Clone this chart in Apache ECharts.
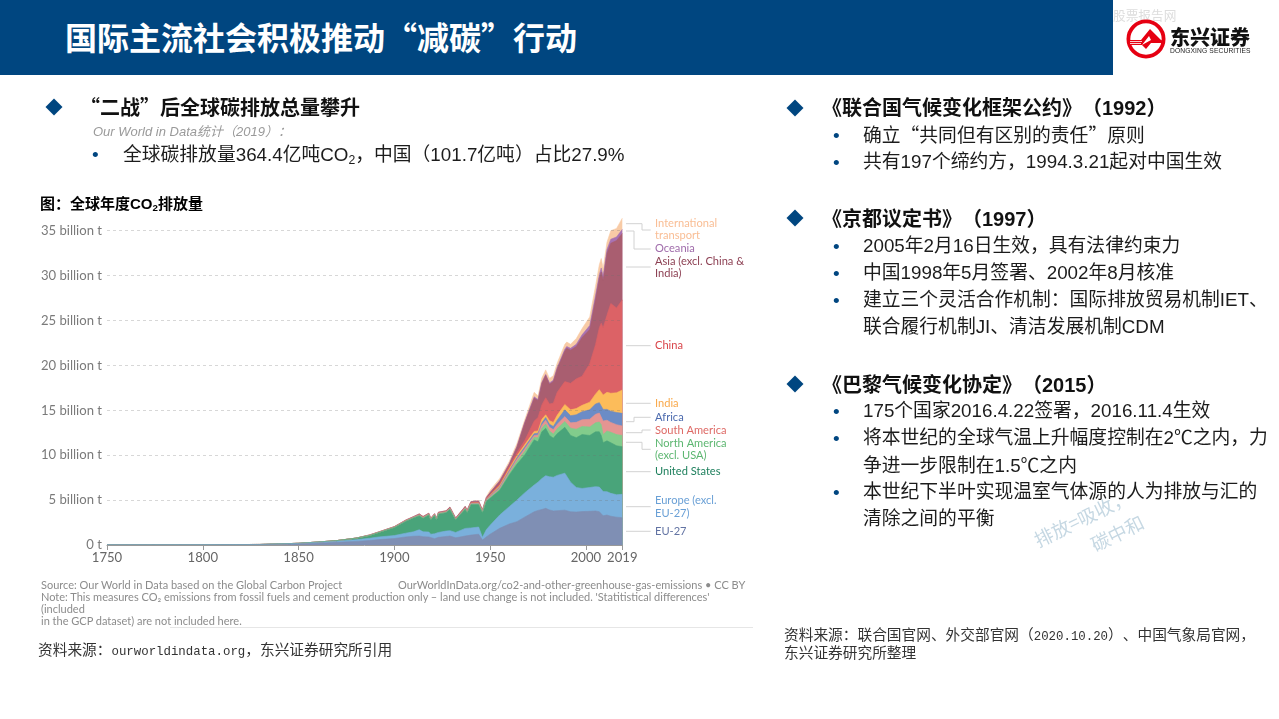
<!DOCTYPE html>
<html lang="zh-CN">
<head>
<meta charset="utf-8">
<title>国际主流社会积极推动“减碳”行动</title>
<script src="https://cdn.jsdelivr.net/npm/echarts@6/dist/echarts.min.js"></script>
<style>
html, body { margin: 0; padding: 0; background: #fff; }
#page { position: relative; width: 1279px; height: 719px; overflow: hidden; font-family: "Liberation Sans", "Noto Sans CJK SC", sans-serif; color: #1c1c1c; text-spacing-trim: space-all; }
#co2Chart { position: absolute; left: 0; top: 0; width: 1279px; height: 719px; }
.t { position: absolute; white-space: nowrap; line-height: 1; transform: translateY(-50%); }
.cjk { font-family: "Noto Sans CJK SC", sans-serif; }
.h { font-size: 20px; font-weight: 700; color: #111; }
.s { font-size: 18.8px; }
.dot { font-size: 19px; color: #004680; }
.dia { position: absolute; width: 12px; height: 12px; background: #004680; transform: translate(-50%, -50%) rotate(45deg); }
.src { font-size: 14.7px; color: #333; }
.src i { font-family: "Liberation Mono", monospace; font-style: normal; font-size: 12.4px; }
.note { font-family: Lato, sans-serif; font-size: 11px; color: #8c8c8c; }
sub { font-size: 65%; line-height: 0; vertical-align: -0.25em; }
</style>
</head>
<body>
<div id="page">
  <div id="co2Chart"></div>

  <div style="position:absolute;left:0;top:0;width:1113px;height:75px;background:#004680"></div>
  <div class="t cjk" style="left:65px;top:36px;font-size:32px;font-weight:700;color:#fff">国际主流社会积极推动“减碳”行动</div>
  <div class="t cjk" style="left:1113px;top:15px;font-size:12.7px;color:#ddd">股票报告网</div>
  <svg style="position:absolute;left:1124px;top:17px" width="44" height="44" viewBox="0 0 44 44">
    <circle cx="22" cy="22" r="17.6" fill="#fff" stroke="#e60012" stroke-width="3.8"/>
    <path d="M5 23 L17 23 L26 12 L37 23 L40 24 L40 26 L27 26 L22 32 L18 28 L27 23 L25 19 L18 28 L5 28 Z" fill="#e60012"/>
    <path d="M6 24.5 L18 24.5 M6 26.5 L17 26.5" stroke="#fff" stroke-width="0.8"/>
  </svg>
  <div class="t cjk" style="left:1170px;top:37px;font-size:20px;font-weight:900;color:#111">东兴证券</div>
  <div class="t" style="left:1170px;top:51px;font-size:6.7px;letter-spacing:0.12px;color:#222">DONGXING SECURITIES</div>

  <div class="dia" style="left:54px;top:107px"></div>
  <div class="t h cjk" style="left:80px;top:107px">“二战”后全球碳排放总量攀升</div>
  <div class="t" style="left:93px;top:131px;font-size:13px;font-style:italic;color:#9a9a9a">Our World in Data统计（2019）：</div>
  <div class="t dot" style="left:92px;top:154px">•</div>
  <div class="t s" style="left:123px;top:155px">全球碳排放量364.4亿吨CO<sub>2</sub>，中国（101.7亿吨）占比27.9%</div>
  <div class="t" style="left:40px;top:203px;font-size:15px;font-weight:700;color:#000">图：全球年度CO<sub>2</sub>排放量</div>

  <div class="t note" style="left:41px;top:584px">Source: Our World in Data based on the Global Carbon Project</div>
  <div class="t note" style="left:398px;top:584px">OurWorldInData.org/co2-and-other-greenhouse-gas-emissions • CC BY</div>
  <div class="t note" style="left:41px;top:595.5px">Note: This measures CO₂ emissions from fossil fuels and cement production only – land use change is not included. 'Statitistical differences'</div>
  <div class="t note" style="left:41px;top:608px">(included</div>
  <div class="t note" style="left:41px;top:620px">in the GCP dataset) are not included here.</div>
  <div style="position:absolute;left:170px;top:627px;width:583px;height:1px;background:#e6e6e6"></div>
  <div class="t src cjk" style="left:38px;top:650px">资料来源：<i>ourworldindata.org</i>，东兴证券研究所引用</div>

  <div class="dia" style="left:795px;top:108px"></div>
  <div class="t h" style="left:822px;top:107px"><span class="cjk">《联合国气候变化框架公约》（</span>1992<span class="cjk">）</span></div>
  <div class="t dot" style="left:833px;top:135px">•</div>
  <div class="t s" style="left:863px;top:135px">确立<span class="cjk">“</span>共同但有区别的责任<span class="cjk">”</span>原则</div>
  <div class="t dot" style="left:833px;top:162px">•</div>
  <div class="t s" style="left:863px;top:162px">共有197个缔约方，1994.3.21起对中国生效</div>

  <div class="dia" style="left:795px;top:218px"></div>
  <div class="t h" style="left:822px;top:218px"><span class="cjk">《京都议定书》（</span>1997<span class="cjk">）</span></div>
  <div class="t dot" style="left:833px;top:246px">•</div>
  <div class="t s" style="left:863px;top:246px">2005年2月16日生效，具有法律约束力</div>
  <div class="t dot" style="left:833px;top:273px">•</div>
  <div class="t s" style="left:863px;top:273px">中国1998年5月签署、2002年8月核准</div>
  <div class="t dot" style="left:833px;top:300px">•</div>
  <div class="t s" style="left:863px;top:300px">建立三个灵活合作机制：国际排放贸易机制IET、</div>
  <div class="t s" style="left:863px;top:327px">联合履行机制JI、清洁发展机制CDM</div>

  <div class="dia" style="left:795px;top:384px"></div>
  <div class="t h" style="left:822px;top:384px"><span class="cjk">《巴黎气候变化协定》（</span>2015<span class="cjk">）</span></div>
  <div class="t dot" style="left:833px;top:411px">•</div>
  <div class="t s" style="left:863px;top:411px">175个国家2016.4.22签署，2016.11.4生效</div>
  <div class="t dot" style="left:833px;top:438px">•</div>
  <div class="t s" style="left:863px;top:438px">将本世纪的全球气温上升幅度控制在2℃之内，力</div>
  <div class="t s" style="left:863px;top:466px">争进一步限制在1.5℃之内</div>
  <div class="t dot" style="left:833px;top:492px">•</div>
  <div class="t s" style="left:863px;top:492px">本世纪下半叶实现温室气体源的人为排放与汇的</div>
  <div class="t s" style="left:863px;top:519px">清除之间的平衡</div>

  <div class="t cjk" style="left:1030px;top:518px;font-size:18.8px;color:#c6d8e3;transform:translateY(-50%) rotate(-26deg);transform-origin:center">排放=吸收，</div>
  <div class="t cjk" style="left:1089px;top:533px;font-size:18.8px;color:#c6d8e3;transform:translateY(-50%) rotate(-26deg);transform-origin:center">碳中和</div>

  <div class="t src cjk" style="left:784px;top:635px">资料来源：联合国官网、外交部官网（<i>2020.10.20</i>）、中国气象局官网，</div>
  <div class="t src cjk" style="left:784px;top:652px">东兴证券研究所整理</div>
</div>

<script>
// 读图估算的数据，单位：十亿吨
var years = [1750,1800,1830,1850,1860,1870,1880,1887,1892,1900,
  1906,1910,1913,1915,1918,1919,1921,1922,1923,1927,
  1929,1932,1937,1938,1940,1944,1946,1948,1950,1955,
  1960,1964,1968,1973,1975,1977,1979,1981,1983,1985,
  1989,1990,1992,1995,1998,2002,2005,2007,2008,2009,
  2011,2013,2016,2019];

var eu27 = [.01,.02,.04,.12,.2,.3,.4,.5,.6,.72,
  .9,.97,1.0,.92,.9,.75,.7,.75,.85,.95,
  1.0,.8,1.0,.95,1.1,1.2,.55,.9,1.2,1.86,
  2.34,2.6,3.1,3.7,3.85,3.95,4.08,3.9,3.8,3.82,
  3.88,3.86,3.7,3.67,3.72,3.75,3.79,3.7,3.6,3.25,
  3.34,3.2,3.1,3.04];
var europeOther = [.005,.01,.02,.05,.09,.11,.18,.25,.3,.33,
  .42,.5,.7,.55,.55,.45,.55,.5,.55,.6,
  .6,.6,.85,.8,.8,.8,.3,.8,1.0,1.48,
  1.93,2.4,2.7,2.98,3.15,3.45,3.64,3.7,3.75,3.93,
  4.12,4.12,3.3,2.73,2.58,2.65,2.71,2.75,2.7,2.7,
  2.6,2.55,2.5,2.6];
var unitedStates = [0,0,.002,.02,.04,.08,.18,.3,.5,.9,
  1.33,1.55,1.55,1.5,1.9,1.6,2.05,1.55,2.05,2.05,
  2.35,1.4,2.15,1.85,2.6,2.5,2.75,3.15,3.0,2.76,
  3.53,4.0,4.2,5.02,4.5,5.2,5.28,4.6,4.35,4.65,
  5.1,5.22,5.2,5.55,6.0,5.8,6.1,6.15,5.9,5.45,
  5.66,5.65,5.45,5.31];
var northAmerica = [0,0,0,0,0,.001,.002,.01,.01,.01,
  .02,.02,.03,.03,.03,.03,.03,.03,.03,.03,
  .04,.03,.04,.04,.05,.06,.06,.08,.1,.1,
  .15,.3,.4,.3,.45,.4,.47,.5,.45,.55,
  .65,.65,.8,.95,.9,.95,1.0,1.1,1.2,.9,
  1.1,1.15,1.25,1.25];
var southAmerica = [0,0,0,0,0,0,.001,.005,.005,.01,
  .01,.01,.02,.02,.02,.02,.02,.02,.02,.02,
  .03,.02,.03,.03,.03,.04,.04,.05,.1,.15,
  .2,.25,.3,.2,.3,.35,.43,.4,.5,.5,
  .55,.55,.6,.76,.75,.85,.95,1.0,1.1,1.5,
  1.2,1.1,1.1,1.05];
var africa = [0,0,0,0,0,0,.001,.005,.005,.01,
  .01,.01,.02,.02,.02,.02,.02,.02,.02,.02,
  .03,.02,.03,.03,.03,.04,.04,.05,.07,.12,
  .15,.17,.2,.2,.2,.25,.3,.35,.35,.45,
  .75,.8,.8,.84,.9,1.05,1.15,1.15,1.2,1.3,
  1.2,1.25,1.35,1.41];
var india = [0,0,0,0,0,.001,.003,.01,.01,.02,
  .02,.02,.03,.03,.03,.03,.03,.03,.03,.03,
  .04,.03,.04,.04,.04,.05,.05,.05,.07,.13,
  .2,.23,.25,.25,.25,.4,.3,.4,.45,.55,
  .6,.65,.65,.7,.7,.85,1.1,1.45,1.6,1.6,
  1.9,2.0,2.2,2.6];
var china = [0,0,0,0,0,0,.001,.005,.005,.01,
  .01,.01,.02,.02,.02,.02,.02,.02,.02,.02,
  .03,.02,.03,.03,.05,.05,.03,.04,.08,.2,
  .25,.35,.45,1.15,1.5,1.6,1.9,1.85,2.15,2.55,
  2.55,2.45,2.95,3.3,3.25,4.3,5.5,6.9,7.4,7.5,
  8.6,10.0,9.45,10.04];
var asiaOther = [0,0,0,0,0,0,.002,.03,.03,.03,
  .05,.06,.08,.07,.06,.05,.06,.05,.07,.08,
  .09,.08,.12,.1,.12,.15,.08,.15,.2,.3,
  .25,.6,1.95,2.55,1.9,2.4,2.5,2.2,2.4,2.6,
  3.4,3.6,3.7,3.6,4.3,3.8,5.0,5.5,5.7,5.3,
  6.9,6.7,7.5,7.4];
var oceania = [0,0,0,0,0,0,.001,.005,.005,.01,
  .01,.01,.01,.01,.01,.01,.01,.01,.01,.01,
  .01,.01,.01,.01,.01,.01,.01,.02,.03,.05,
  .05,.07,.05,.15,.1,.1,.1,.15,.15,.15,
  .2,.2,.2,.25,.3,.45,.45,.4,.45,.4,
  .4,.45,.4,.45];
var transport = [0,0,0,0,0,0,.002,.01,.01,.01,
  .02,.02,.02,.02,.02,.02,.02,.02,.02,.02,
  .03,.03,.04,.04,.04,.05,.03,.08,.25,.25,
  .25,.33,.3,.5,.4,.5,.5,.5,.5,.5,
  .55,.5,.45,.65,.7,.95,1.05,1.1,1.05,.9,
  .8,.95,.95,1.25];

var xTicks = [1750, 1800, 1850, 1900, 1950, 2000, 2019];

// 自下而上的图层
var layers = [
  ['EU-27', eu27, '#7F8FB4'],
  ['Europe (excl. EU-27)', europeOther, '#7AB0DC'],
  ['United States', unitedStates, '#49A47A'],
  ['North America (excl. USA)', northAmerica, '#82CC8C'],
  ['South America', southAmerica, '#E59592'],
  ['Africa', africa, '#6B8CC6'],
  ['India', india, '#FCBC5A'],
  ['China', china, '#DC6266'],
  ['Asia (excl. China & India)', asiaOther, '#A95E70'],
  ['Oceania', oceania, '#A872B2'],
  ['International transport', transport, '#F8CBA6']
];

// 累加后每层画到 x 轴，上层先画，下层盖在上面
var running = years.map(function () { return 0; });
var areaSeries = layers.map(function (layer) {
  running = running.map(function (sum, i) { return sum + layer[1][i]; });
  return {
    name: layer[0],
    type: 'line',
    showSymbol: false,
    silent: true,
    data: years.map(function (y, i) { return [y, running[i]]; }),
    lineStyle: { width: 0.6, color: layer[2] },
    itemStyle: { color: layer[2] },
    areaStyle: { color: layer[2], opacity: 1 }
  };
}).reverse();

// 右侧标注文字
function label(text, y, color) {
  return { type: 'text', x: 655, y: y, style: { text: text, fill: color, font: '11.1px Lato', verticalAlign: 'middle' } };
}
// 引导线
function leader(points) {
  return { type: 'polyline', shape: { points: points }, style: { stroke: '#d2d2d2', lineWidth: 1, fill: null } };
}

var co2Chart = echarts.init(document.getElementById('co2Chart'));
co2Chart.setOption({
  animation: false,
  grid: { left: 107, top: 185.8, width: 515.3, height: 359.2 },
  xAxis: {
    type: 'value',
    z: 5,
    min: 1750,
    max: 2019,
    interval: 50,
    splitLine: { show: false },
    axisLine: { lineStyle: { color: '#999' } },
    axisTick: { length: 5, lineStyle: { color: '#999' }, customValues: xTicks },
    axisLabel: {
      color: '#666', fontFamily: 'Lato', fontSize: 13.1, margin: 6, customValues: xTicks,
      formatter: function (v) { return String(v); }
    }
  },
  yAxis: {
    type: 'value',
    z: 5,
    min: 0,
    max: 40,
    interval: 5,
    axisLine: { show: false },
    axisTick: { show: false },
    splitLine: { showMaxLine: false, lineStyle: { color: 'rgba(110,110,110,0.28)', type: [3, 3] } },
    axisLabel: {
      color: '#7a7a7a', fontFamily: 'Lato', fontSize: 13.1, margin: 5,
      formatter: function (v) { return v === 0 ? '0 t' : (v === 40 ? '' : v + ' billion t'); }
    }
  },
  series: areaSeries,
  graphic: [
    leader([[626, 223.7], [642, 223.7], [642, 230], [650.7, 230]]),
    leader([[626, 231], [634, 231], [634, 249], [650.7, 249]]),
    leader([[626, 267], [650.7, 267]]),
    leader([[626, 345.7], [650.7, 345.7]]),
    leader([[626, 403.3], [650.7, 403.3]]),
    leader([[626, 421.7], [634, 421.7], [634, 417.3], [650.7, 417.3]]),
    leader([[626, 432.7], [642, 432.7], [642, 430], [650.7, 430]]),
    leader([[626, 442.3], [642, 442.3], [642, 449.3], [650.7, 449.3]]),
    leader([[626, 471.7], [650.7, 471.7]]),
    leader([[626, 506.7], [650.7, 506.7]]),
    leader([[626, 531.3], [650.7, 531.3]]),
    label('International', 223, '#F9BE95'),
    label('transport', 235.5, '#F9BE95'),
    label('Oceania', 248, '#A06CAB'),
    label('Asia (excl. China &', 261, '#8C3F52'),
    label('India)', 273, '#8C3F52'),
    label('China', 345.7, '#D9454A'),
    label('India', 403, '#F9A94B'),
    label('Africa', 417, '#4C6AAE'),
    label('South America', 430, '#DE6A66'),
    label('North America', 443, '#5CB670'),
    label('(excl. USA)', 455, '#5CB670'),
    label('United States', 471, '#1D7F5C'),
    label('Europe (excl.', 500, '#6AA0D6'),
    label('EU-27)', 513, '#6AA0D6'),
    label('EU-27', 531, '#6273A3')
  ]
});
</script>
</body>
</html>
